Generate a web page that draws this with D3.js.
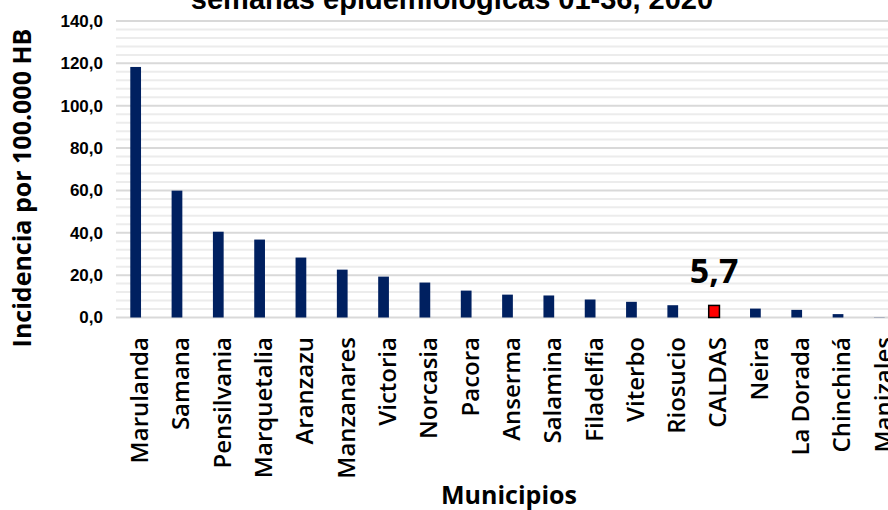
<!DOCTYPE html>
<html>
<head>
<meta charset="utf-8">
<script src="https://cdn.jsdelivr.net/npm/d3@7"></script>
<style>
  body { margin: 0; background: #fff; }
  svg { display: block; }
</style>
</head>
<body>
<div id="chart"></div>
<script>
// data
const municipios = ["Marulanda", "Samana", "Pensilvania", "Marquetalia", "Aranzazu", "Manzanares",
  "Victoria", "Norcasia", "Pacora", "Anserma", "Salamina", "Filadelfia", "Viterbo", "Riosucio",
  "CALDAS", "Neira", "La Dorada", "Chinchiná", "Manizales"];
const incidencia = [118.3, 59.9, 40.5, 36.8, 28.3, 22.6, 19.3, 16.5, 12.7, 10.8, 10.4, 8.5, 7.4, 5.8,
  5.7, 4.2, 3.6, 1.6, 0.1];
const yTicks = [0, 20, 40, 60, 80, 100, 120, 140];
const highlight = "CALDAS";

const width = 888, height = 510;
const margin = {top: 21, right: -12, bottom: 192, left: 115};

const svg = d3.select("#chart").append("svg")
    .attr("width", width)
    .attr("height", height);

// the plot runs past the right edge, Manizales is half cut
const x = d3.scaleBand()
    .domain(municipios)
    .range([margin.left, width - margin.right]);
const barW = x.bandwidth() * 0.26;

const y = d3.scaleLinear()
    .domain([0, 140])
    .range([height - margin.bottom - 0.5, margin.top]);

// minor grid every 4, major every 20
const minor = d3.range(0, 141, 4).filter(v => v % 20 !== 0);
svg.append("g").selectAll("line")
    .data(minor)
    .join("line")
    .attr("x1", 116).attr("x2", width)
    .attr("y1", d => y(d)).attr("y2", d => y(d))
    .attr("stroke", "#ececec")
    .attr("stroke-width", 2);

svg.append("g").selectAll("line")
    .data(yTicks)
    .join("line")
    .attr("x1", 116).attr("x2", width)
    .attr("y1", d => y(d)).attr("y2", d => y(d))
    .attr("stroke", "#d9d9d9")
    .attr("stroke-width", 2);

// y axis labels
const yAxis = svg.append("g")
    .attr("transform", `translate(103,0)`)
    .call(d3.axisLeft(y).tickValues(yTicks).tickSize(0).tickPadding(0)
        .tickFormat(d => d3.format(".1f")(d).replace(".", ",")));
yAxis.select(".domain").remove();
yAxis.selectAll("text")
    .attr("font-family", "'Liberation Sans Narrow', 'Arial Narrow', 'Liberation Sans', sans-serif")
    .attr("font-weight", "bold")
    .attr("font-size", 17)
    .attr("fill", "#000");

// bars
svg.append("g").selectAll("rect")
    .data(municipios)
    .join("rect")
    .attr("x", d => x(d) + x.bandwidth() / 2 - barW / 2)
    .attr("width", barW)
    .attr("y", (d, i) => y(incidencia[i]))
    .attr("height", (d, i) => y(0) - y(incidencia[i]))
    .attr("fill", d => d === highlight ? "#ff0000" : "#002060")
    .attr("stroke", d => d === highlight ? "#000" : "none")
    .attr("stroke-width", 1.5);

// value label over CALDAS
const hi = municipios.indexOf(highlight);
svg.append("text")
    .attr("x", x(highlight) + x.bandwidth() / 2)
    .attr("y", y(incidencia[hi]) - 22)
    .attr("text-anchor", "middle")
    .attr("font-family", "'Open Sans', sans-serif")
    .attr("font-weight", "bold")
    .attr("font-size", 34)
    .text(d3.format(".1f")(incidencia[hi]).replace(".", ","));

// category labels
svg.append("g").selectAll("text")
    .data(municipios)
    .join("text")
    .attr("transform", d => `translate(${x(d) + x.bandwidth() / 2 + 4},337) rotate(-90)`)
    .attr("text-anchor", "end")
    .attr("dy", "0.35em")
    .attr("font-family", "'Open Sans', sans-serif")
    .attr("font-weight", 600)
    .attr("font-size", 24)
    .attr("fill", "#000")
    .text(d => d);

// axis titles
svg.append("text")
    .attr("transform", "translate(22,188) rotate(-90)")
    .attr("text-anchor", "middle")
    .attr("dy", "0.35em")
    .attr("font-family", "'Open Sans', sans-serif")
    .attr("font-weight", "bold")
    .attr("font-size", 25)
    .text("Incidencia por 100.000 HB");

svg.append("text")
    .attr("x", 509)
    .attr("y", 504)
    .attr("text-anchor", "middle")
    .attr("font-family", "'Open Sans', sans-serif")
    .attr("font-weight", "bold")
    .attr("font-size", 25)
    .text("Municipios");

// title, cut at the top as in the reference
svg.append("text")
    .attr("x", 452)
    .attr("y", 9)
    .attr("text-anchor", "middle")
    .attr("font-family", "'Liberation Sans', Arial, sans-serif")
    .attr("font-weight", "bold")
    .attr("font-size", 29)
    .text("semanas epidemiológicas 01-36, 2020");
</script>
</body>
</html>
